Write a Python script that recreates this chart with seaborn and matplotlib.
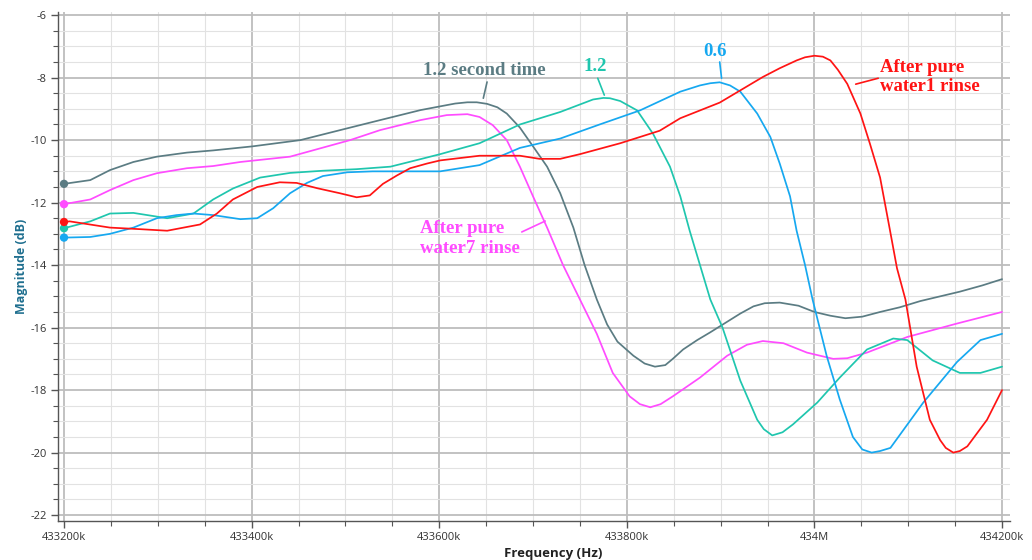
import matplotlib
matplotlib.use("Agg")
import matplotlib.pyplot as plt
from matplotlib.ticker import MultipleLocator, FixedLocator
import seaborn as sns

# Frequency sweep readings (kHz) and magnitude (dB) for each run
freq_second = [433200, 433228, 433249, 433274, 433299, 433331, 433359, 433401, 433452,
               433505, 433537, 433580, 433601, 433617, 433630, 433640, 433651, 433662,
               433672, 433686, 433700, 433715, 433729, 433743, 433755, 433768, 433779,
               433790, 433807, 433819, 433830, 433841, 433849, 433860, 433875, 433889,
               433905, 433921, 433935, 433947, 433963, 433983, 434000, 434017, 434033,
               434051, 434070, 434091, 434113, 434134, 434155, 434179, 434200]
mag_second = [-11.40, -11.28, -10.96, -10.70, -10.53, -10.40, -10.33, -10.20, -10.00,
              -9.60, -9.36, -9.04, -8.92, -8.83, -8.79, -8.79, -8.84, -8.95,
              -9.15, -9.60, -10.20, -10.85, -11.70, -12.80, -14.00, -15.10, -15.90,
              -16.45, -16.90, -17.15, -17.25, -17.20, -17.00, -16.70, -16.40, -16.15,
              -15.85, -15.55, -15.32, -15.22, -15.20, -15.30, -15.50, -15.62, -15.70,
              -15.65, -15.50, -15.35, -15.15, -15.00, -14.85, -14.65, -14.45]

freq_rinse7 = [433200, 433228, 433249, 433274, 433299, 433331, 433359, 433388, 433441,
               433505, 433537, 433580, 433608, 433630, 433643, 433657, 433672, 433686,
               433700, 433715, 433732, 433750, 433768, 433785, 433803, 433814, 433825,
               433836, 433849, 433878, 433907, 433928, 433945, 433967, 433992, 434020,
               434035, 434056, 434099, 434152, 434200]
mag_rinse7 = [-12.05, -11.90, -11.60, -11.28, -11.06, -10.90, -10.83, -10.70, -10.53,
              -10.00, -9.68, -9.36, -9.20, -9.17, -9.26, -9.52, -10.00, -10.85,
              -11.80, -12.80, -14.00, -15.10, -16.20, -17.45, -18.20, -18.45, -18.55,
              -18.45, -18.20, -17.60, -16.90, -16.55, -16.43, -16.50, -16.80, -17.00,
              -16.98, -16.80, -16.30, -15.87, -15.50]

freq_12 = [433200, 433228, 433249, 433274, 433310, 433338, 433359, 433380, 433409,
           433441, 433476, 433512, 433548, 433572, 433601, 433643, 433686, 433729,
           433764, 433775, 433782, 433793, 433811, 433828, 433846, 433857, 433867,
           433878, 433889, 433902, 433921, 433939, 433946, 433955, 433966, 433977,
           434003, 434027, 434056, 434084, 434099, 434126, 434155, 434177, 434200]
mag_12 = [-12.82, -12.60, -12.35, -12.33, -12.50, -12.35, -11.90, -11.55, -11.20,
          -11.05, -10.98, -10.93, -10.85, -10.67, -10.45, -10.10, -9.50, -9.10,
          -8.70, -8.65, -8.66, -8.75, -9.05, -9.80, -10.85, -11.80, -12.90,
          -14.00, -15.10, -16.00, -17.70, -18.95, -19.25, -19.45, -19.35, -19.10,
          -18.40, -17.60, -16.70, -16.35, -16.40, -17.05, -17.45, -17.45, -17.25]

freq_06 = [433200, 433228, 433249, 433274, 433299, 433320, 433338, 433359, 433388,
           433406, 433423, 433441, 433459, 433476, 433502, 433529, 433566, 433601,
           433643, 433686, 433729, 433771, 433814, 433857, 433878, 433889, 433899,
           433910, 433921, 433939, 433953, 433963, 433974, 433981, 433990, 433998,
           434013, 434027, 434041, 434051, 434061, 434070, 434081, 434116, 434152,
           434177, 434200]
mag_06 = [-13.12, -13.10, -13.00, -12.80, -12.50, -12.40, -12.35, -12.40, -12.53,
          -12.50, -12.18, -11.70, -11.37, -11.15, -11.03, -11.00, -11.00, -11.00,
          -10.80, -10.25, -9.95, -9.50, -9.05, -8.45, -8.25, -8.18, -8.15,
          -8.25, -8.45, -9.15, -9.90, -10.75, -11.80, -12.90, -14.00, -15.10,
          -16.90, -18.30, -19.50, -19.90, -20.00, -19.95, -19.85, -18.40, -17.10,
          -16.40, -16.20]

freq_rinse1 = [433200, 433206, 433249, 433281, 433310, 433345, 433363, 433380, 433406,
               433430, 433448, 433470, 433494, 433512, 433526, 433540, 433555, 433569,
               433587, 433601, 433643, 433686, 433707, 433729, 433750, 433793, 433835,
               433857, 433899, 433945, 433963, 433981, 433990, 434000, 434009, 434017,
               434025, 434035, 434049, 434059, 434070, 434080, 434088, 434097, 434109,
               434123, 434134, 434140, 434148, 434155, 434163, 434184, 434200]
mag_rinse1 = [-12.62, -12.60, -12.80, -12.85, -12.90, -12.70, -12.35, -11.90, -11.50,
              -11.35, -11.37, -11.54, -11.70, -11.83, -11.77, -11.40, -11.13, -10.90,
              -10.75, -10.65, -10.50, -10.50, -10.60, -10.60, -10.45, -10.10, -9.70,
              -9.30, -8.80, -7.98, -7.70, -7.45, -7.35, -7.30, -7.33, -7.45,
              -7.75, -8.20, -9.15, -10.10, -11.20, -12.80, -14.10, -15.10, -17.25,
              -18.95, -19.60, -19.85, -20.00, -19.95, -19.80, -18.95, -18.00]

x_ticks = [433200, 433400, 433600, 433800, 434000, 434200]
x_tick_labels = ["433200k", "433400k", "433600k", "433800k", "434M", "434200k"]
y_ticks = [-22, -20, -18, -16, -14, -12, -10, -8, -6]

series = [
    ("1.2 second time", freq_second, mag_second, "#5b7c83"),
    ("After pure\nwater7 rinse", freq_rinse7, mag_rinse7, "#ff4cff"),
    ("1.2", freq_12, mag_12, "#1fc6ae"),
    ("0.6", freq_06, mag_06, "#16a8f0"),
    ("After pure\nwater1 rinse", freq_rinse1, mag_rinse1, "#ff1414"),
]

sns.set_theme(style="white")
plt.rcParams["font.family"] = ["Open Sans", "DejaVu Sans"]
plt.rcParams["axes.unicode_minus"] = False

fig = plt.figure(figsize=(10.32, 5.6), dpi=100)
ax = fig.add_axes([0.0562, 0.0696, 0.9225, 0.909])

for name, fx, fy, col in series:
    sns.lineplot(x=fx, y=fy, color=col, lw=1.25, ax=ax, zorder=3)
    sns.scatterplot(x=fx[:1], y=fy[:1], color=col, s=36, edgecolor="none",
                    ax=ax, zorder=4)

ax.set_xlim(433193.6, 434208.5)
ax.set_ylim(-22.19, -5.9)

ax.xaxis.set_major_locator(FixedLocator(x_ticks))
ax.set_xticklabels(x_tick_labels)
ax.xaxis.set_minor_locator(MultipleLocator(50))
ax.yaxis.set_major_locator(FixedLocator(y_ticks))
ax.set_yticklabels([str(v) for v in y_ticks])
ax.yaxis.set_minor_locator(MultipleLocator(0.5))

ax.grid(True, which="major", color="#bdbdbd", lw=1.3, zorder=0)
ax.grid(True, which="minor", color="#e2e2e2", lw=0.8, zorder=0)
ax.set_axisbelow(True)

for side in ("top", "right"):
    ax.spines[side].set_visible(False)
for side in ("left", "bottom"):
    ax.spines[side].set_color("#555555")
    ax.spines[side].set_linewidth(1.0)

ax.tick_params(axis="both", which="major", direction="out", length=5, width=1,
               color="#555555", labelsize=8, labelcolor="#333333", pad=3,
               left=True, bottom=True)
ax.tick_params(axis="both", which="minor", direction="out", length=3.5, width=0.8,
               color="#555555", left=True, bottom=True)

ax.set_xlabel("Frequency (Hz)", fontsize=9.5, fontweight="bold", color="#222222",
              labelpad=2)
ax.xaxis.set_label_coords(0.52, -0.052)
ax.set_ylabel("Magnitude (dB)", fontsize=9, fontweight="bold", color="#1f6f8f")
ax.yaxis.set_label_coords(-0.031, 0.5)

serif = ["Liberation Serif", "DejaVu Serif"]
label_style = dict(fontsize=13.5, fontweight="bold", family=serif, zorder=5)

# Curve labels with short leader lines
ax.text(433648, -7.76, "1.2 second time", ha="center", va="center",
        color="#5b7c83", **label_style)
ax.plot([433651, 433647], [-8.14, -8.66], color="#5b7c83", lw=1.2, zorder=5)

ax.text(433766, -7.66, "1.2", ha="center", va="center", color="#1fc6ae",
        **label_style)
ax.plot([433769, 433776], [-8.02, -8.56], color="#1fc6ae", lw=1.2, zorder=5)

ax.text(433894, -7.18, "0.6", ha="center", va="center", color="#16a8f0",
        **label_style)
ax.plot([433899, 433901], [-7.5, -8.02], color="#16a8f0", lw=1.2, zorder=5)

ax.text(434070, -7.98, "After pure\nwater1 rinse", ha="left", va="center",
        color="#ff1414", linespacing=1.2, **label_style)
ax.plot([434044, 434068], [-8.21, -8.02], color="#ff1414", lw=1.2, zorder=5)

ax.text(433579, -13.14, "After pure\nwater7 rinse", ha="left", va="center",
        color="#ff4cff", linespacing=1.2, **label_style)
ax.plot([433688, 433713], [-12.94, -12.59], color="#ff4cff", lw=1.2, zorder=5)

fig.savefig("out.png", dpi=100)
